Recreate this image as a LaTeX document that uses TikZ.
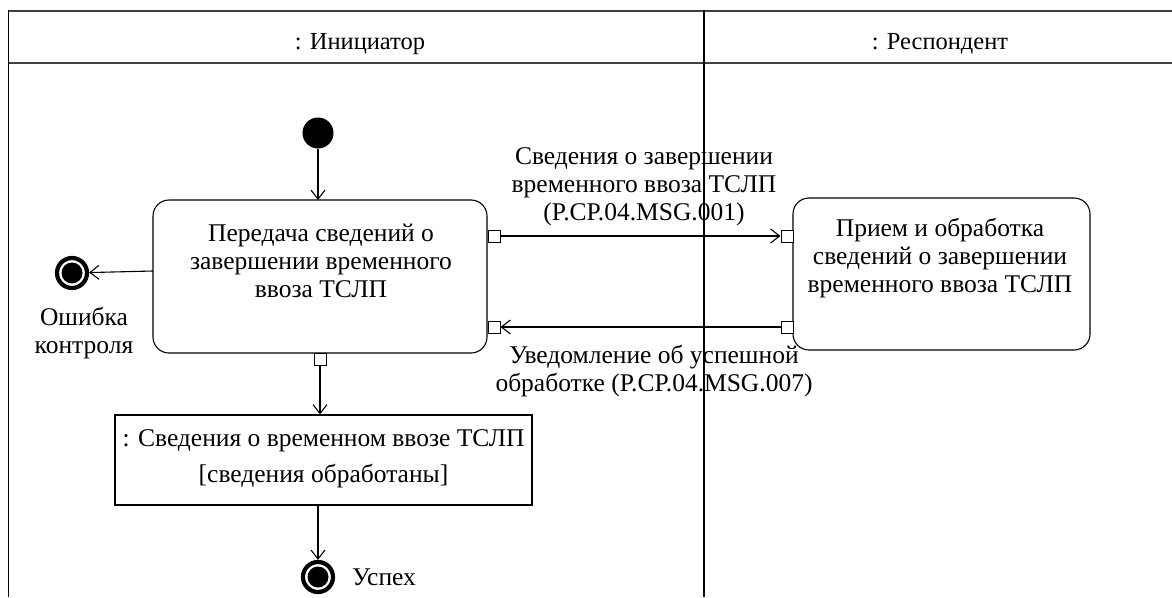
\documentclass[tikz,border=0pt]{standalone}
\usepackage{fontspec}
\setmainfont{Liberation Serif}
\usetikzlibrary{arrows.meta}
\begin{document}
\begin{tikzpicture}[x=1pt,y=-1pt,
  txt/.style={font=\fontsize{25.5}{27.8}\selectfont, align=center, inner sep=0pt},
  hdr/.style={font=\fontsize{24.5}{27}\selectfont, inner sep=0pt},
  action/.style={draw, line width=1.1pt, rounded corners=16pt},
  objbox/.style={draw, line width=1.1pt},
  pinbox/.style={draw, fill=white, line width=1pt, minimum size=12pt, inner sep=0pt},
  flow/.style={line width=1.1pt, -{Straight Barb[length=9pt,width=14pt,line width=1.1pt]}},
  initnode/.style={circle, fill=black, minimum size=31pt, inner sep=0pt},
  finalring/.style={circle, draw, line width=4.2pt, fill=white, minimum size=30pt, inner sep=0pt},
  lane/.style={line width=1.2pt}
]
\fill[white] (0,0) rectangle (1172,597);
\useasboundingbox (0,0) rectangle (1172,597);
% swimlane frame
\draw[lane, line width=2pt, black!75] (8,10.5) -- (1172,10.5);
\draw[lane, line width=2pt, black!75] (8,63) -- (1172,63);
\draw[lane] (8.5,10) -- (8.5,597);
\draw[lane] (704,10) -- (704,597);
\node[hdr] (laneA) at (360,44) {: Инициатор};
\node[hdr] (laneB) at (940,44) {: Респондент};

% nodes
\node[initnode] (start) at (318,133) {};
\draw[action] (153,200) rectangle (487,353);
\coordinate (b1n) at (318,200);
\coordinate (b1w) at (153,271);
\node[txt] (b1text) at (321,261) {Передача сведений о\\завершении временного\\ввоза ТСЛП};

\draw[action] (793,198) rectangle (1090,350);
\node[txt] (b2text) at (940,258) {Прием и обработка\\сведений о завершении\\временного ввоза ТСЛП};

\node[pinbox] (p1a) at (494,236) {};
\node[pinbox] (p1b) at (494,327) {};
\node[pinbox] (p1c) at (320,359.5) {};
\node[pinbox] (p2a) at (787,236) {};
\node[pinbox] (p2b) at (787,327) {};

\node[objbox, minimum width=417pt, minimum height=90pt, inner sep=0pt] (obj) at (323.5,460) {};
\node[txt] (objtext) at (323.5,459) {: Сведения о временном ввозе ТСЛП\\[8pt][сведения обработаны]};

\node[finalring] (ferr) at (72,273) {};
\fill (ferr.center) circle (10.5pt);
\node[finalring] (fok) at (318,577) {};
\fill (fok.center) circle (10.5pt);

\node[txt] (lerr) at (84,333) {Ошибка\\контроля};
\node[txt, anchor=west] (lok) at (352,577) {Успех};
\node[txt] (lmsg1) at (644,187) {Сведения о завершении\\временного ввоза ТСЛП\\(P.CP.04.MSG.001)};
\node[txt] (lmsg2) at (654,371) {Уведомление об успешной\\обработке (P.CP.04.MSG.007)};

% connectors
\draw[flow] (start) -- (b1n);
\draw[flow] (b1w) -- (ferr);
\draw[flow] (p1a.east) -- (p2a.west);
\draw[flow] (p2b.west) -- (p1b.east);
\draw[flow] (p1c.south) -- (obj.north -| p1c.south);
\draw[flow] (obj.south -| fok.north) -- (fok.north);
\end{tikzpicture}
\end{document}
